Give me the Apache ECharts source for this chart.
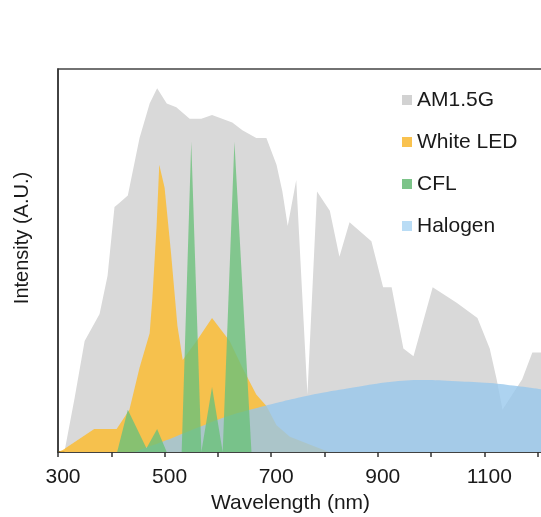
<!DOCTYPE html>
<html>
<head>
<meta charset="utf-8">
<script src="https://cdn.jsdelivr.net/npm/echarts@6/dist/echarts.min.js"></script>
<style>
  html, body { margin: 0; padding: 0; background: #fff; overflow: hidden; }
  #chart { width: 541px; height: 517px; }
</style>
</head>
<body>
<div id="chart"></div>
<script>
// 光谱数据: [波长 nm, 相对强度]
const am15g = [
  [300, 0], [312, 0], [331, 0.14], [350, 0.29], [378, 0.36], [393, 0.46], [406, 0.64],
  [415, 0.65], [431, 0.67], [453, 0.82], [472, 0.91], [486, 0.95], [504, 0.91], [522, 0.90],
  [547, 0.87], [569, 0.87], [589, 0.88], [627, 0.86], [646, 0.84], [672, 0.82], [691, 0.82],
  [710, 0.75], [721, 0.68], [731, 0.59], [747, 0.71], [768, 0.15], [786, 0.68], [810, 0.63],
  [828, 0.51], [847, 0.60], [888, 0.55], [910, 0.43], [926, 0.43], [948, 0.27], [967, 0.25],
  [1003, 0.43], [1048, 0.39], [1087, 0.35], [1110, 0.27], [1123, 0.19], [1134, 0.11],
  [1171, 0.19], [1190, 0.26], [1210, 0.26]
];
const whiteLed = [
  [300, 0], [309, 0.005], [368, 0.06], [410, 0.06], [434, 0.11], [453, 0.22], [472, 0.31],
  [477, 0.40], [485, 0.59], [490, 0.75], [500, 0.69], [512, 0.52], [524, 0.33], [534, 0.24],
  [560, 0.29], [589, 0.35], [622, 0.29], [646, 0.22], [672, 0.15], [691, 0.12], [710, 0.07],
  [735, 0.04], [790, 0.01], [809, 0], [1210, 0]
];
const cfl = [
  [300, 0], [411, 0], [431, 0.11], [466, 0.01], [486, 0.06], [504, 0], [532, 0], [550, 0.81],
  [569, 0], [589, 0.17], [609, 0], [631, 0.81], [663, 0], [1210, 0]
];
const halogen = [
  [300, 0], [434, 0], [472, 0.015], [520, 0.04], [565, 0.065], [611, 0.09], [660, 0.11],
  [715, 0.13], [761, 0.145], [796, 0.155], [860, 0.17], [922, 0.183], [984, 0.188],
  [1048, 0.185], [1110, 0.18], [1161, 0.172], [1210, 0.163]
];
const xLabels = [300, 500, 700, 900, 1100];

const chart = echarts.init(document.getElementById('chart'));
const font = '"Liberation Sans", Arial, sans-serif';

function area(name, data, color, smooth) {
  return {
    name: name,
    type: 'line',
    data: data,
    smooth: smooth || false,
    showSymbol: false,
    silent: true,
    lineStyle: { width: 0 },
    itemStyle: { color: color },
    areaStyle: { color: color, opacity: 1 }
  };
}

chart.setOption({
  animation: false,
  legend: {
    orient: 'vertical',
    left: 397,
    top: 84,
    icon: 'rect',
    itemWidth: 10,
    itemHeight: 10,
    itemGap: 20,
    textStyle: { fontFamily: font, fontSize: 21, color: '#1a1a1a', lineHeight: 22 },
    data: [
      { name: 'AM1.5G', itemStyle: { color: '#d2d2d2' } },
      { name: 'White LED', itemStyle: { color: '#f9c24f' } },
      { name: 'CFL', itemStyle: { color: '#7cc489' } },
      { name: 'Halogen', itemStyle: { color: '#b9dcf5' } }
    ]
  },
  grid: {
    left: 58,
    width: 485,
    top: 69,
    bottom: 65,
    outerBoundsMode: 'none',
    containLabel: false,
    show: true,
    borderColor: '#444',
    borderWidth: 1.5
  },
  xAxis: {
    type: 'value',
    min: 300,
    max: 1210,
    interval: 100,
    name: 'Wavelength (nm)',
    nameLocation: 'middle',
    nameGap: 41,
    nameTextStyle: { fontFamily: font, fontSize: 21, color: '#1a1a1a', padding: [0, 0, 0, -20] },
    axisLine: { lineStyle: { color: '#333', width: 1.5 } },
    axisTick: { length: 5, lineStyle: { color: '#333', width: 1.5 } },
    axisLabel: {
      fontFamily: font, fontSize: 21, color: '#1a1a1a', margin: 15, padding: [0, 0, 0, 10],
      showMaxLabel: false,
      formatter: v => (xLabels.indexOf(v) >= 0 ? String(v) : '')
    },
    splitLine: { show: false }
  },
  yAxis: {
    type: 'value',
    min: 0,
    max: 1,
    name: 'Intensity (A.U.)',
    nameLocation: 'middle',
    nameGap: 26,
    nameTextStyle: { fontFamily: font, fontSize: 20, color: '#1a1a1a', padding: [0, 0, 0, 45] },
    axisLine: { show: true, lineStyle: { color: '#333', width: 1.5 } },
    axisTick: { show: false },
    axisLabel: { show: false },
    splitLine: { show: false }
  },
  series: [
    area('AM1.5G', am15g, '#d9d9d9'),
    area('White LED', whiteLed, 'rgba(250,188,52,0.85)'),
    area('Halogen', halogen, 'rgba(150,198,236,0.78)', 0.4),
    area('CFL', cfl, 'rgba(108,192,122,0.8)')
  ]
});
</script>
</body>
</html>
